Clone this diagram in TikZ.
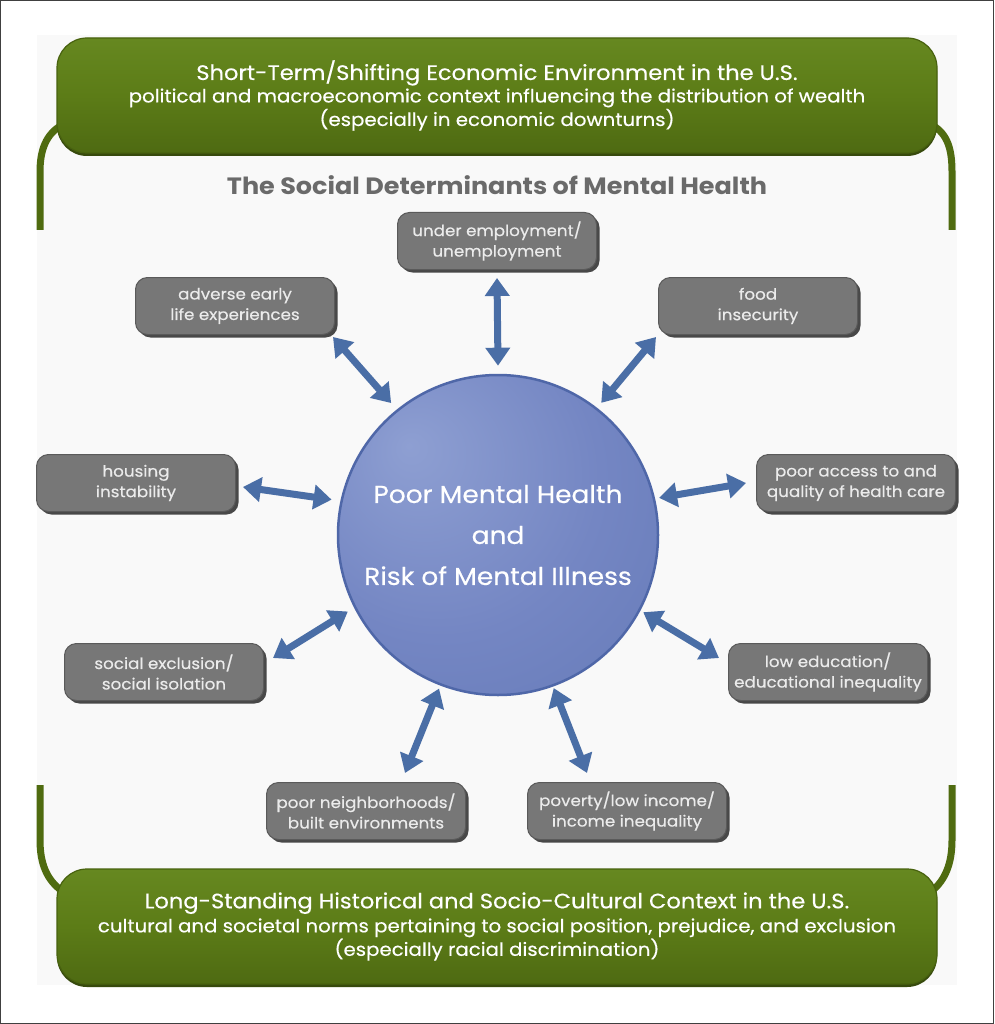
\documentclass[tikz,border=0pt]{standalone}
\usepackage{fontspec}
\setmainfont{Poppins}[FakeStretch=1.08]
\newfontfamily\medfont{Poppins}[FakeStretch=1.08, FakeBold=0.4]
\usetikzlibrary{arrows.meta,shadows,calc}
\definecolor{boxgray}{HTML}{777777}
\definecolor{boxedge}{HTML}{5A5A5A}
\definecolor{boxshadow}{HTML}{484848}
\definecolor{greentop}{HTML}{668820}
\definecolor{greenmid}{HTML}{5C7C17}
\definecolor{greenbot}{HTML}{4E6A12}
\definecolor{greenedge}{HTML}{48620F}
\definecolor{greenline}{HTML}{4F6B10}
\definecolor{arrowblue}{HTML}{4A6EA6}
\definecolor{circin}{HTML}{8E9FD2}
\definecolor{circmid}{HTML}{7486C3}
\definecolor{circout}{HTML}{5F75B3}
\definecolor{circedge}{HTML}{4F67A8}
\definecolor{titlegray}{HTML}{6A6A6A}
\pgfdeclareradialshading{sphereblue}{\pgfpoint{-14bp}{14bp}}{color(0bp)=(circin); color(25bp)=(circmid); color(55bp)=(circout); color(70bp)=(circout)}
\begin{document}
\begin{tikzpicture}[x=1pt,y=-1pt,
  gbox/.style={rectangle, rounded corners=12pt, fill=boxgray, draw=boxedge, line width=1pt,
    minimum width=199pt, minimum height=57pt, text=white!92!black, align=center,
    font=\medfont\fontsize{15.5}{20.5}\selectfont, inner sep=0pt,
    drop shadow={shadow xshift=3pt, shadow yshift=-3pt, fill=boxshadow, opacity=1}},
  greenbox/.style={rectangle, rounded corners=30pt, minimum width=880pt, minimum height=115pt,
    top color=greentop, bottom color=greenbot, middle color=greenmid, draw=greenedge, line width=1.2pt,
    text=white, align=center, inner sep=0pt, font=\medfont\fontsize{18.3}{23.5}\selectfont,
    drop shadow={shadow xshift=0pt, shadow yshift=-3pt, fill=greenbot!70!black, opacity=1}},
  dbl/.style={draw=arrowblue, fill=arrowblue, line width=7pt,
    {Triangle[width=24pt,length=18pt]}-{Triangle[width=24pt,length=18pt]}},
  bracket/.style={draw=greenline, line width=7pt}
]
\useasboundingbox (0,0) rectangle (994,1024);
\fill[white] (0,0) rectangle (994,1024);
\fill[black!2.5] (37,35) rectangle (957,985);
\draw[draw=black!75, line width=1.2pt] (0.6,0.6) rectangle (993.4,1023.4);

% brackets
\coordinate (bl1) at (40,230);
\coordinate (br1) at (952,230);
\coordinate (bl2) at (40,785);
\coordinate (br2) at (952,785);
\draw[bracket] (62,125) .. controls (46,134) and (40,150) .. (40,172) -- (bl1);
\draw[bracket] (932,125) .. controls (948,134) and (952,150) .. (952,172) -- (br1);
\draw[bracket] (bl2) -- (40,840) .. controls (40,864) and (47,880) .. (62,891);
\draw[bracket] (br2) -- (952,840) .. controls (952,864) and (945,880) .. (932,891);

% green boxes
\node[greenbox] (top) at (497,95.5) {{\fontsize{20.9}{24}\selectfont Short-Term/Shifting Economic Environment in the U.S.}\\[-1pt]
political and macroeconomic context influencing the distribution of wealth\\
(especially in economic downturns)};
\node[greenbox] (bot) at (497,926.5) {{\fontsize{20.9}{24}\selectfont Long-Standing Historical and Socio-Cultural Context in the U.S.}\\[0.5pt]
cultural and societal norms pertaining to social position, prejudice, and exclusion\\
(especially racial discrimination)};

% title
\node[text=titlegray, font=\bfseries\fontsize{23.6}{26}\selectfont] (title) at (497,185) {The Social Determinants of Mental Health};

% circle
\node[circle, minimum size=320pt, inner sep=0pt, draw=circedge, line width=2.5pt,
  shading=sphereblue, text=white, align=center,
  font=\medfont\fontsize{24.5}{41}\selectfont] (circ) at (498,535) {Poor Mental Health\\and\\Risk of Mental Illness};

% gray boxes
\node[gbox] (under) at (497,241) {under employment/\\unemployment};
\node[gbox] (adv) at (235,306) {adverse early\\life experiences};
\node[gbox] (food) at (758,306) {food\\insecurity};
\node[gbox] (hous) at (136,483) {housing\\instability};
\node[gbox] (acc) at (856,483) {poor access to and\\quality of health care};
\node[gbox] (soc) at (164,672) {social exclusion/\\social isolation};
\node[gbox] (low) at (828,672) {low education/\\educational inequality};
\node[gbox] (neigh) at (366,811) {poor neighborhoods/\\built environments};
\node[gbox] (pov) at (627,811) {poverty/low income/\\income inequality};

% arrows
\draw[dbl] ($(under.south)+(0,8)$) -- ($(circ.center)!1.05!(circ.90)$);
\draw[dbl] ($(adv.south east)+(-2,2)$) -- ($(circ.center)!1.053!(circ.129)$);
\draw[dbl] ($(food.south west)+(-2,2)$) -- ($(circ.center)!1.04!(circ.52)$);
\draw[dbl] ($(hous.east)+(7,4)$) -- ($(circ.center)!1.055!(circ.168)$);
\draw[dbl] ($(acc.west)+(-10,0)$) -- ($(circ.center)!1.025!(circ.13)$);
\draw[dbl] ($(soc.east)+(9,-14)$) -- ($(circ.center)!1.045!(circ.207.5)$);
\draw[dbl] ($(low.west)+(-9,-14)$) -- ($(circ.center)!1.02!(circ.332)$);
\draw[dbl] ($(neigh.north)+(39,-9)$) -- ($(circ.center)!1.02!(circ.249)$);
\draw[dbl] ($(pov.north)+(-40,-9)$) -- ($(circ.center)!1.01!(circ.290)$);
\end{tikzpicture}
\end{document}
